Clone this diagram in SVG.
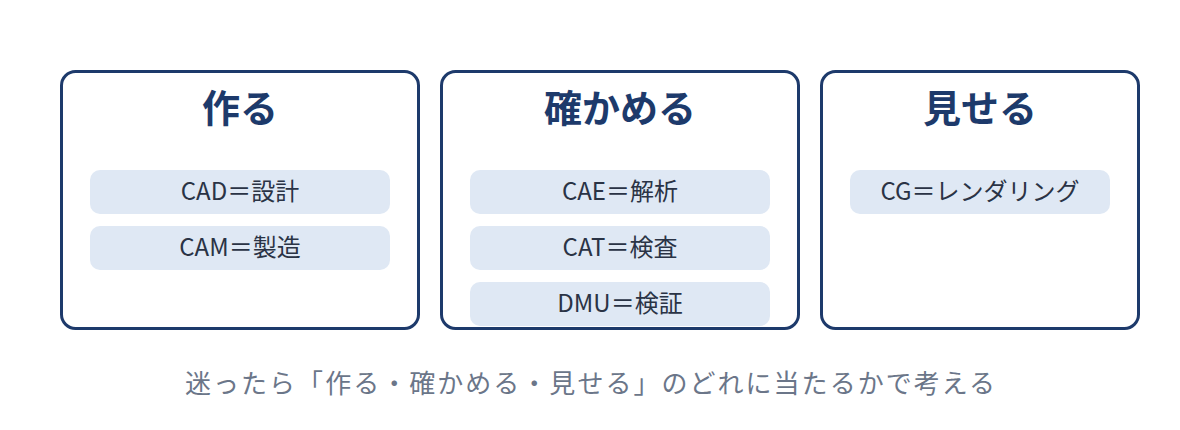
<svg xmlns="http://www.w3.org/2000/svg" width="1180" height="430" viewBox="0 0 1180 430">
<style>
.box{fill:#fff;stroke:#1d3a6b;stroke-width:3}
.pill{fill:#dfe8f4}
.t{font-family:"Noto Sans CJK JP","Noto Sans",sans-serif;text-anchor:middle}
.h{font-size:38px;font-weight:bold;fill:#1d3a6b}
.p{font-size:24px;fill:#2a3345}
.f{font-size:26px;fill:#6b7689}
</style>
<rect width="1180" height="430" fill="#fff"/>
<g id="make">
<rect class="box" x="61.5" y="71.5" width="357" height="257" rx="14"/>
<text class="t h" x="240" y="122">作る</text>
<rect class="pill" x="90" y="170" width="300" height="44" rx="10"/>
<text class="t p" x="240" y="200">CAD＝設計</text>
<rect class="pill" x="90" y="226" width="300" height="44" rx="10"/>
<text class="t p" x="240" y="256">CAM＝製造</text>
</g>
<g id="check">
<rect class="box" x="441.5" y="71.5" width="357" height="257" rx="14"/>
<text class="t h" x="620" y="122">確かめる</text>
<rect class="pill" x="470" y="170" width="300" height="44" rx="10"/>
<text class="t p" x="620" y="200">CAE＝解析</text>
<rect class="pill" x="470" y="226" width="300" height="44" rx="10"/>
<text class="t p" x="620" y="256">CAT＝検査</text>
<rect class="pill" x="470" y="282" width="300" height="44" rx="10"/>
<text class="t p" x="620" y="312">DMU＝検証</text>
</g>
<g id="show">
<rect class="box" x="821.5" y="71.5" width="317" height="257" rx="14"/>
<text class="t h" x="980" y="122">見せる</text>
<rect class="pill" x="850" y="170" width="260" height="44" rx="10"/>
<text class="t p" x="980" y="200">CG＝レンダリング</text>
</g>
<g id="connectors"></g>
<text class="t f" x="590" y="393" textLength="810" lengthAdjust="spacing">迷ったら「作る・確かめる・見せる」のどれに当たるかで考える</text>
</svg>
